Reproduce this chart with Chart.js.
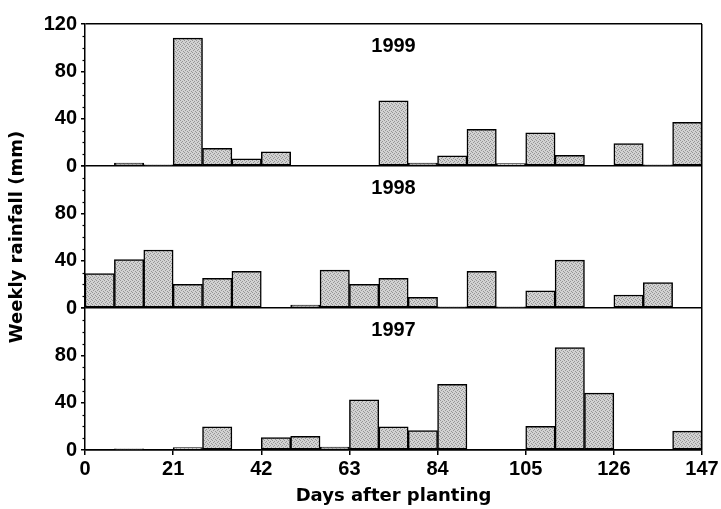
<!DOCTYPE html>
<html>
<head>
<meta charset="utf-8">
<script src="https://cdn.jsdelivr.net/npm/chart.js@4"></script>
<style>
  html, body { margin: 0; padding: 0; background: #fff; }
  #wrap { width: 721px; height: 509px; }
</style>
</head>
<body>
<div id="wrap"><canvas id="chart"></canvas></div>
<script>
// week start (days after planting), one bar per week
const weekStart = [0, 7, 14, 21, 28, 35, 42, 49, 56, 63, 70, 77, 84, 91, 98, 105, 112, 119, 126, 133, 140];
const xTicks = [0, 21, 42, 63, 84, 105, 126, 147];
const yTicks = [0, 40, 80, 120];

// weekly rainfall (mm), null = no bar
const rain1999 = [null, 2.5, 1, 108, 15, 6, 12, null, null, null, 55, 2.5, 8.5, 31, 2, 28, 9, null, 19, 1, 37];
const rain1998 = [29, 41, 49, 20, 25, 31, null, 2.5, 32, 20, 25, 9, 1, 31, 1, 14.5, 40.5, null, 11, 21.5, null];
const rain1997 = [null, 1, null, 2, 19.5, null, 10.5, 11.5, 2.5, 42.5, 19.5, 16.5, 55.5, null, null, 20, 86.5, 48, null, null, 16];

const years = ['1999', '1998', '1997'];

const canvas = document.getElementById('chart');
const ctx = canvas.getContext('2d');

// speckled grey fill
const pc = document.createElement('canvas');
pc.width = 4; pc.height = 4;
const pctx = pc.getContext('2d');
pctx.fillStyle = '#d2d2d2';
pctx.fillRect(0, 0, 4, 4);
pctx.fillStyle = '#959595';
[[0, 0], [2, 1], [1, 2], [3, 3]].forEach(p => pctx.fillRect(p[0], p[1], 1, 1));
const fill = ctx.createPattern(pc, 'repeat');

const tickFont = { family: "'Liberation Sans', Arial, sans-serif", size: 20, weight: 'bold' };
const titleFont = { family: "'DejaVu Sans', sans-serif", size: 18, weight: 'bold' };

function series(values, axis) {
  return {
    data: weekStart.map((d, i) => ({ x: d + 3.5, y: values[i] })),
    yAxisID: axis,
    backgroundColor: fill,
    borderColor: '#000',
    borderWidth: 1.5,
    borderSkipped: false,
    barPercentage: 1,
    categoryPercentage: 1,
    grouped: false
  };
}

function yAxis(weight, showTop, withTitle) {
  return {
    type: 'linear',
    position: 'left',
    stack: 'rain',
    stackWeight: 1,
    weight: weight,
    min: 0,
    max: 120,
    afterBuildTicks: s => { s.ticks = yTicks.map(v => ({ value: v })); },
    border: { display: true, color: '#000', width: 1.5 },
    grid: {
      drawOnChartArea: true,
      color: c => (c.tick && (c.tick.value === 0 || (showTop && c.tick.value === 120))) ? '#000' : 'rgba(0,0,0,0)',
      lineWidth: 1.5,
      drawTicks: true,
      tickLength: 4,
      tickColor: '#000',
      tickWidth: 1.5
    },
    ticks: {
      autoSkip: false,
      padding: 4,
      color: '#000',
      font: tickFont,
      callback: v => (v === 120 && !showTop) ? '' : v
    },
    title: {
      display: withTitle,
      text: 'Weekly rainfall (mm)',
      color: '#000',
      font: titleFont,
      padding: { top: 7, bottom: 0 }
    },
    afterFit: s => { s.width = 85; }
  };
}

const panelLabels = {
  id: 'panelLabels',
  afterDatasetsDraw(chart) {
    const c = chart.ctx;
    const area = chart.chartArea;
    c.save();
    c.fillStyle = '#000';
    c.font = 'bold 20px "Liberation Sans", Arial, sans-serif';
    c.textAlign = 'center';
    c.textBaseline = 'middle';
    ['y99', 'y98', 'y97'].forEach((id, i) => {
      c.fillText(years[i], (area.left + area.right) / 2, chart.scales[id].getPixelForValue(101));
    });
    c.restore();
  },
  afterDraw(chart) {
    // small minor ticks on the y axes
    const c = chart.ctx;
    c.save();
    c.strokeStyle = '#000';
    c.lineWidth = 1.2;
    ['y99', 'y98', 'y97'].forEach(id => {
      const s = chart.scales[id];
      for (let v = 10; v < 120; v += 10) {
        if (v % 40 === 0) continue;
        const y = Math.round(s.getPixelForValue(v)) + 0.5;
        c.beginPath();
        c.moveTo(s.right - 2.5, y);
        c.lineTo(s.right, y);
        c.stroke();
      }
    });
    c.restore();
  }
};

new Chart(ctx, {
  type: 'bar',
  data: {
    datasets: [
      series(rain1999, 'y99'),
      series(rain1998, 'y98'),
      series(rain1997, 'y97')
    ]
  },
  options: {
    responsive: true,
    maintainAspectRatio: false,
    animation: false,
    layout: { padding: { top: 24, right: 19, bottom: 0, left: 0 } },
    plugins: {
      legend: { display: false },
      tooltip: { enabled: false }
    },
    scales: {
      x: {
        type: 'linear',
        min: 0,
        max: 147,
        offset: false,
        afterBuildTicks: s => { s.ticks = xTicks.map(v => ({ value: v })); },
        border: { display: true, color: '#000', width: 1.5 },
        grid: {
          offset: false,
          drawOnChartArea: true,
          color: c => (c.tick && c.tick.value === 147) ? '#000' : 'rgba(0,0,0,0)',
          lineWidth: 1.5,
          drawTicks: true,
          tickLength: 5,
          tickColor: '#000',
          tickWidth: 1.5
        },
        ticks: { padding: 2, color: '#000', font: tickFont, maxRotation: 0, autoSkip: false },
        title: {
          display: true,
          text: 'Days after planting',
          color: '#000',
          font: titleFont,
          padding: { top: 0, bottom: 2 }
        },
        afterFit: s => { s.height = 59; }
      },
      y99: yAxis(3, true, false),
      y98: yAxis(2, false, true),
      y97: yAxis(1, false, false)
    }
  },
  plugins: [panelLabels]
});
</script>
</body>
</html>
